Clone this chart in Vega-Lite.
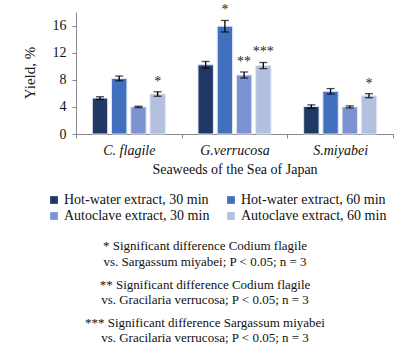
{
  "$schema": "https://vega.github.io/schema/vega-lite/v6.json",
  "padding": {"left": 22, "top": 3, "right": 8, "bottom": 5},
  "config": {
    "font": "Liberation Serif",
    "view": {"stroke": null},
    "concat": {"spacing": 4},
    "axis": {"labelFont": "Liberation Serif", "titleFont": "Liberation Serif"},
    "legend": {"labelFont": "Liberation Serif"}
  },
  "resolve": {"legend": {"color": "independent"}, "scale": {"color": "independent"}},
  "vconcat": [
    {
      "width": 317,
      "height": 122,
      "title": {
        "text": "Yield, %",
        "orient": "left",
        "anchor": "middle",
        "frame": "group",
        "angle": 270,
        "font": "Liberation Serif",
        "fontSize": 15,
        "fontWeight": "normal",
        "color": "#222",
        "offset": 9
      },
      "data": {
        "values": [
          {"species": "C. flagile", "method": "Hot-water extract, 30 min", "value": 5.3, "lo": 5.1, "hi": 5.5, "sig": ""},
          {"species": "C. flagile", "method": "Hot-water extract, 60 min", "value": 8.2, "lo": 7.85, "hi": 8.55, "sig": ""},
          {"species": "C. flagile", "method": "Autoclave extract, 30 min", "value": 4.0, "lo": 3.9, "hi": 4.1, "sig": ""},
          {"species": "C. flagile", "method": "Autoclave extract, 60 min", "value": 5.9, "lo": 5.57, "hi": 6.23, "sig": "*"},
          {"species": "G.verrucosa", "method": "Hot-water extract, 30 min", "value": 10.2, "lo": 9.7, "hi": 10.7, "sig": ""},
          {"species": "G.verrucosa", "method": "Hot-water extract, 60 min", "value": 15.9, "lo": 15.05, "hi": 16.75, "sig": "*"},
          {"species": "G.verrucosa", "method": "Autoclave extract, 30 min", "value": 8.7, "lo": 8.25, "hi": 9.15, "sig": "**"},
          {"species": "G.verrucosa", "method": "Autoclave extract, 60 min", "value": 10.1, "lo": 9.65, "hi": 10.55, "sig": "***"},
          {"species": "S.miyabei", "method": "Hot-water extract, 30 min", "value": 4.05, "lo": 3.8, "hi": 4.3, "sig": ""},
          {"species": "S.miyabei", "method": "Hot-water extract, 60 min", "value": 6.3, "lo": 5.9, "hi": 6.7, "sig": ""},
          {"species": "S.miyabei", "method": "Autoclave extract, 30 min", "value": 4.0, "lo": 3.85, "hi": 4.15, "sig": ""},
          {"species": "S.miyabei", "method": "Autoclave extract, 60 min", "value": 5.65, "lo": 5.35, "hi": 5.95, "sig": "*"}
        ]
      },
      "encoding": {
        "x": {
          "field": "species",
          "type": "nominal",
          "sort": ["C. flagile", "G.verrucosa", "S.miyabei"],
          "scale": {"paddingInner": 0, "paddingOuter": 0},
          "title": "Seaweeds of the Sea of Japan",
          "axis": {
            "labelAngle": 0,
            "labelFontStyle": "italic",
            "labelFontSize": 14,
            "labelColor": "#111",
            "labelPadding": 5,
            "domainColor": "#888",
            "tickColor": "#888",
            "tickSize": 4,
            "tickBand": "extent",
            "titleFontSize": 14,
            "titleFontWeight": "normal",
            "titleColor": "#111",
            "titlePadding": 5
          }
        },
        "xOffset": {
          "field": "method",
          "sort": ["Hot-water extract, 30 min", "Hot-water extract, 60 min", "Autoclave extract, 30 min", "Autoclave extract, 60 min"],
          "scale": {"paddingInner": 0.2, "paddingOuter": 0.85}
        }
      },
      "layer": [
        {
          "mark": {"type": "bar", "stroke": "#e2e7f3", "strokeWidth": 1},
          "encoding": {
            "y": {
              "field": "value",
              "type": "quantitative",
              "scale": {"domain": [0, 18]},
              "title": null,
              "axis": {"values": [0, 4, 8, 12, 16], "labelOverlap": false, "grid": false, "domainColor": "#888", "tickColor": "#888", "tickSize": 4, "labelPadding": 6, "labelFontSize": 14, "labelColor": "#111", "labelFont": "Liberation Serif"}
            },
            "color": {
              "field": "method",
              "type": "nominal",
              "sort": ["Hot-water extract, 30 min", "Hot-water extract, 60 min", "Autoclave extract, 30 min", "Autoclave extract, 60 min"],
              "scale": {"range": ["#203864", "#4070BE", "#7B93D0", "#B4C0E0"]},
              "legend": {
                "orient": "none",
                "direction": "horizontal",
                "legendX": -29,
                "legendY": 181,
                "title": null,
                "columns": 2,
                "symbolType": "square",
                "symbolSize": 60,
                "symbolStrokeWidth": 0,
                "labelFontSize": 14,
                "labelColor": "#111",
                "labelOffset": 3,
                "rowPadding": 2,
                "columnPadding": 14
              }
            }
          }
        },
        {
          "mark": {"type": "rule", "color": "black", "strokeWidth": 1.3},
          "encoding": {
            "y": {"field": "lo", "type": "quantitative", "title": null, "axis": {"values": [0, 4, 8, 12, 16], "labelOverlap": false, "grid": false, "domainColor": "#888", "tickColor": "#888", "tickSize": 4, "labelPadding": 6, "labelFontSize": 14, "labelColor": "#111", "labelFont": "Liberation Serif"}},
            "y2": {"field": "hi"}
          }
        },
        {
          "mark": {"type": "tick", "color": "black", "thickness": 1.3, "size": 8},
          "encoding": {"y": {"field": "hi", "type": "quantitative", "title": null, "axis": {"values": [0, 4, 8, 12, 16], "labelOverlap": false, "grid": false, "domainColor": "#888", "tickColor": "#888", "tickSize": 4, "labelPadding": 6, "labelFontSize": 14, "labelColor": "#111", "labelFont": "Liberation Serif"}}}
        },
        {
          "mark": {"type": "tick", "color": "black", "thickness": 1.3, "size": 8},
          "encoding": {"y": {"field": "lo", "type": "quantitative", "title": null, "axis": {"values": [0, 4, 8, 12, 16], "labelOverlap": false, "grid": false, "domainColor": "#888", "tickColor": "#888", "tickSize": 4, "labelPadding": 6, "labelFontSize": 14, "labelColor": "#111", "labelFont": "Liberation Serif"}}}
        },
        {
          "mark": {"type": "text", "baseline": "bottom", "dy": -3, "fontSize": 14, "color": "#222", "font": "Liberation Serif"},
          "encoding": {
            "y": {"field": "hi", "type": "quantitative", "title": null, "axis": {"values": [0, 4, 8, 12, 16], "labelOverlap": false, "grid": false, "domainColor": "#888", "tickColor": "#888", "tickSize": 4, "labelPadding": 6, "labelFontSize": 14, "labelColor": "#111", "labelFont": "Liberation Serif"}},
            "text": {"field": "sig"}
          }
        }
      ]
    },
    {
      "width": 258,
      "height": 115,
      "data": {
        "values": [
          {"note": 1, "text": ["* Significant difference Codium flagile", "vs. Sargassum miyabei; P < 0.05; n = 3"]},
          {"note": 2, "text": ["** Significant difference Codium flagile", "vs. Gracilaria verrucosa; P < 0.05; n = 3"]},
          {"note": 3, "text": ["*** Significant difference Sargassum miyabei", "vs. Gracilaria verrucosa; P < 0.05; n = 3"]}
        ]
      },
      "mark": {"type": "text", "fontSize": 13, "color": "#111", "baseline": "middle", "lineHeight": 15.5, "font": "Liberation Serif"},
      "encoding": {
        "y": {"field": "note", "type": "ordinal", "axis": null, "scale": {"paddingInner": 0, "paddingOuter": 0}},
        "text": {"field": "text"}
      }
    }
  ]
}
